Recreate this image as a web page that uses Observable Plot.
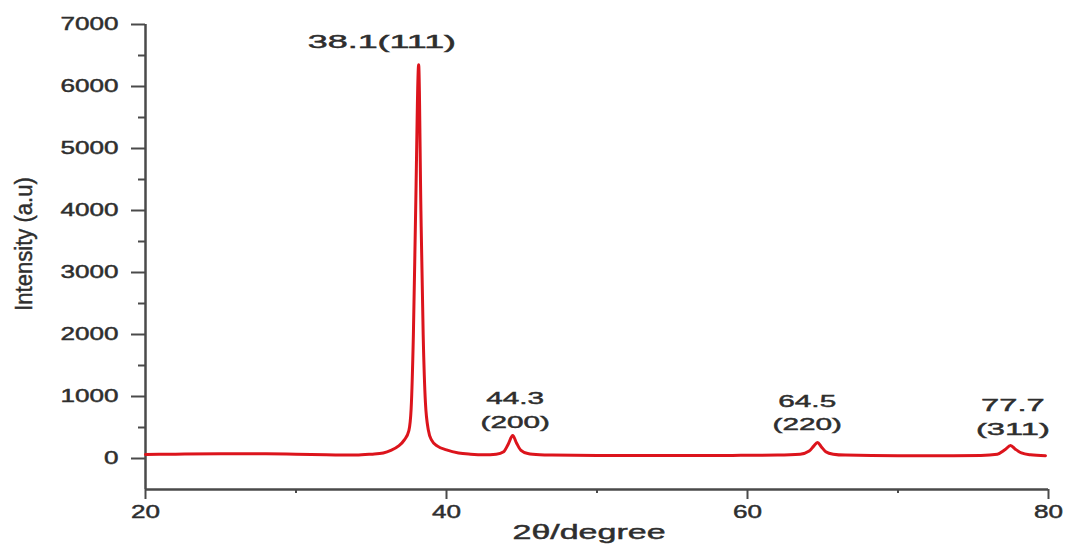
<!DOCTYPE html>
<html>
<head>
<meta charset="utf-8">
<script src="https://cdn.jsdelivr.net/npm/d3@7"></script>
<script src="https://cdn.jsdelivr.net/npm/@observablehq/plot@0.6"></script>
<style>
  html, body { margin: 0; padding: 0; background: #fff; }
  #chart { width: 1069px; height: 547px; }
</style>
</head>
<body>
<div id="chart"></div>
<script>
// XRD pattern
const twoTheta = [20, 22, 25, 28, 30, 32, 34, 35, 35.8, 36.3, 36.8, 37.2, 37.5, 37.65, 37.8, 37.95, 38.15, 38.3, 38.45, 38.6, 38.8, 39.0, 39.4, 40.0, 40.8, 41.6, 42.5, 43.3, 43.8, 44.1, 44.4, 44.65, 44.95, 45.4, 46.2, 47, 50, 53, 56, 59, 62, 63.5, 64.1, 64.4, 64.65, 64.9, 65.2, 65.7, 66.5, 70, 73, 75.5, 76.6, 77.1, 77.48, 77.8, 78.2, 78.8, 79.8];
const intensity = [65, 70, 75, 75, 70, 60, 55, 70, 90, 130, 200, 300, 450, 800, 2000, 4000, 6350, 4000, 2000, 900, 450, 300, 200, 140, 90, 70, 60, 70, 110, 230, 370, 250, 130, 80, 60, 55, 50, 50, 48, 50, 55, 70, 120, 200, 260, 190, 110, 70, 55, 45, 45, 50, 70, 140, 210, 150, 90, 60, 45];

const peakAngle = [38.1, 44.3, 64.5, 77.7];
const peakIntensity = [6350, 370, 260, 210];
const peakHkl = ["(111)", "(200)", "(220)", "(311)"];

const yMajorTicks = [0, 1000, 2000, 3000, 4000, 5000, 6000, 7000];
const yMinorTicks = [500, 1500, 2500, 3500, 4500, 5500, 6500];
const xMajorTicks = [20, 40, 60, 80];
const xMinorTicks = [30, 50, 70];

const xTitle = "2θ/degree";
const yTitle = "Intensity (a.u)";

const curve = twoTheta.map((t, i) => ({t, v: intensity[i]}));
const peaks = peakAngle.map((t, i) => ({t, v: peakIntensity[i], hkl: peakHkl[i]}));

const axisColor = "#4a4a4a";
const textColor = "#2e2e2e";
const peakText = (i, dx, dy, oneLine, fontSize) => Plot.text([peaks[i]], {
  x: "t", y: "v",
  text: d => oneLine ? `${d.t}${d.hkl}` : `${d.t}\n${d.hkl}`,
  lineAnchor: "bottom", lineHeight: 1.4,
  dx, dy, fontSize, fill: textColor
});

const plot = Plot.plot({
  width: 1069, height: 547,
  marginLeft: 145, marginRight: 21, marginTop: 24, marginBottom: 58,
  x: {domain: [20, 80], axis: null},
  y: {domain: [-500, 7000], axis: null},
  style: {fontFamily: "'Liberation Sans', Arial, sans-serif", background: "#fff"},
  marks: [
    Plot.axisY({ticks: yMajorTicks, tickFormat: d => String(d), label: null, tickSize: 14, tickPadding: 13, fontSize: 18, color: textColor, stroke: axisColor, strokeWidth: 2}),
    Plot.axisY({ticks: yMinorTicks, tickFormat: () => "", label: null, tickSize: 7, stroke: axisColor, strokeWidth: 2}),
    Plot.axisX({ticks: xMajorTicks, tickFormat: d => String(d), label: null, tickSize: 10, tickPadding: 6, fontSize: 18, color: textColor, stroke: axisColor, strokeWidth: 2}),
    Plot.axisX({ticks: xMinorTicks, tickFormat: () => "", label: null, tickSize: 4, stroke: axisColor, strokeWidth: 2}),
    Plot.ruleX([20], {y1: -500, y2: 7000, stroke: axisColor, strokeWidth: 2.5}),
    Plot.ruleY([-500], {x1: 20, x2: 80, stroke: axisColor, strokeWidth: 2.5}),
    Plot.line(curve, {x: "t", y: "v", stroke: "#dc141c", strokeWidth: 3, curve: "monotone-x", strokeLinejoin: "round"}),
    peakText(0, -36, -17, true, 17.5),
    peakText(1, 4, -8, false, 17),
    peakText(2, -8, -12, false, 17),
    peakText(3, -1, -10, false, 17.2),
    Plot.text([xTitle], {frameAnchor: "bottom", textAnchor: "middle", lineAnchor: "bottom", dx: -8, dy: 49, fontSize: 20, fill: textColor}),
    Plot.text([yTitle], {frameAnchor: "left", textAnchor: "middle", rotate: -90, lineAnchor: "middle", dx: -121, dy: -13, fontSize: 24, fill: textColor})
  ]
});

// widen glyphs horizontally like the (stretched) reference lettering
const scaleFor = {18: 1.45, 17: 1.75, 17.2: 1.9, 17.5: 2.05, 20: 1.7, 24: 0.92};
plot.querySelectorAll("text").forEach(t => {
  let el = t, fs = null;
  while (el && el.getAttribute) {
    const a = el.getAttribute("font-size");
    if (a) { fs = parseFloat(a); break; }
    el = el.parentNode;
  }
  const s = scaleFor[fs];
  if (!s) return;
  t.style.stroke = textColor;
  t.style.strokeWidth = "0.45px";
  const x = parseFloat(t.getAttribute("x") || 0);
  t.removeAttribute("x");
  const tr = t.getAttribute("transform") || "";
  t.setAttribute("transform", `${tr} translate(${x},0) scale(${s},1)`);
});

document.getElementById("chart").appendChild(plot);
</script>
</body>
</html>
